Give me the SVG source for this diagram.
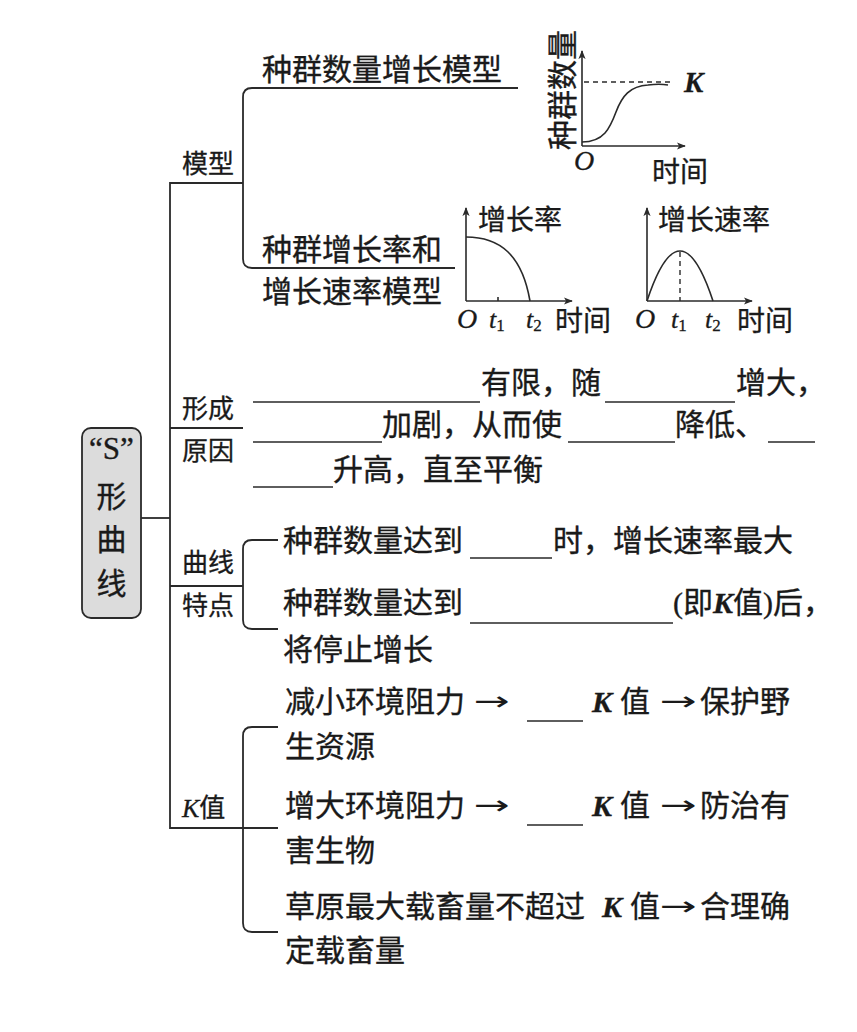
<svg xmlns="http://www.w3.org/2000/svg" width="857" height="1032" viewBox="0 0 857 1032">
<style>
.ln{fill:none;stroke:#2a2a2a;stroke-width:1.8}
.ax{fill:none;stroke:#2a2a2a;stroke-width:1.6}
.dash{fill:none;stroke:#2a2a2a;stroke-width:1.4;stroke-dasharray:5 4}
.bl{fill:none;stroke:#2a2a2a;stroke-width:1.5}
.t{font-family:"Noto Sans CJK SC","Noto Sans CJK JP",sans-serif;font-size:30px;fill:#1a1a1a;stroke:#1a1a1a;stroke-width:0.35}
.s{font-family:"Noto Sans CJK SC",sans-serif;font-size:26px;fill:#1a1a1a;stroke:#1a1a1a;stroke-width:0.3}
.g{font-family:"Noto Sans CJK SC",sans-serif;font-size:28px;fill:#1a1a1a;stroke:#1a1a1a;stroke-width:0.3}
.it{font-family:"Liberation Serif",serif;font-style:italic}
.bi{font-family:"Liberation Serif",serif;font-style:italic;font-weight:bold}
.rm{font-family:"Liberation Serif",serif}
.ar{font-family:"DejaVu Sans",sans-serif;font-size:26px;fill:#1a1a1a}
</style>
<defs>
<marker id="ah" viewBox="0 0 10 10" refX="9" refY="5" markerWidth="9" markerHeight="9" markerUnits="userSpaceOnUse" orient="auto">
<path d="M0,1 L10,5 L0,9 L2.5,5 Z" fill="#2a2a2a"/>
</marker>
</defs>
<rect width="857" height="1032" fill="#ffffff"/>

<g id="connectors">
<path class="ln" d="M243,183 H170 V828 H278"/>
<path class="ln" d="M141,518 H170"/>
<path class="ln" d="M170,428 H243"/>
<path class="ln" d="M170,586 H243"/>
<path class="ln" d="M518,88 H252 Q243,88 243,97 V259 Q243,268 252,268 H455"/>
<path class="ln" d="M278,540 H252 Q243,540 243,549 V620 Q243,629 252,629 H278"/>
<path class="ln" d="M278,727 H252 Q243,727 243,736 V923 Q243,932 252,932 H278"/>
</g>

<g id="root">
<rect x="82" y="428" width="59" height="190" rx="9" fill="#dcdcdc" stroke="#2a2a2a" stroke-width="1.8"/>
<text x="111.5" y="459" class="t" text-anchor="middle" style="font-family:'Liberation Serif',serif;font-size:31px">“S”</text>
<text x="111.5" y="507" class="t" text-anchor="middle">形</text>
<text x="111.5" y="550" class="t" text-anchor="middle">曲</text>
<text x="111.5" y="594" class="t" text-anchor="middle">线</text>
</g>

<g id="n-model">
<text x="182" y="173" class="s">模型</text>
</g>
<g id="n-model-num">
<text x="262" y="80" class="t">种群数量增长模型</text>
</g>
<g id="n-model-rate">
<text x="262" y="260" class="t">种群增长率和</text>
<text x="262" y="302" class="t">增长速率模型</text>
</g>

<g id="graph-s">
<path class="ax" d="M582,146 V51" marker-end="url(#ah)"/>
<path class="ax" d="M582,146 H685" marker-end="url(#ah)"/>
<path class="dash" d="M584,82 H673"/>
<path class="ax" d="M582,142 C604,142 610,128 616,112 C622,96 630,86 648,85 C656,84 662,84 668,85"/>
<text x="560" y="90" class="t" text-anchor="middle" dominant-baseline="central" transform="rotate(-90 560 90)">种群数量</text>
<text x="684" y="92" class="g bi" style="font-size:29px">K</text>
<text x="574" y="170" class="g it">O</text>
<text x="652" y="182" class="g">时间</text>
</g>

<g id="graph-rate">
<path class="ax" d="M466,301 V208" marker-end="url(#ah)"/>
<path class="ax" d="M466,301 H572" marker-end="url(#ah)"/>
<path class="ax" d="M498,297 V301"/>
<path class="ax" d="M466,237 C500,237 522,255 530,301"/>
<text x="478" y="230" class="g">增长率</text>
<text x="457" y="328" class="g it">O</text>
<text x="489" y="328" class="g it" style="font-size:26px">t<tspan class="rm" font-style="normal" font-size="17" dy="3">1</tspan></text>
<text x="526" y="328" class="g it" style="font-size:26px">t<tspan class="rm" font-style="normal" font-size="17" dy="3">2</tspan></text>
<text x="555" y="331" class="g">时间</text>
</g>

<g id="graph-speed">
<path class="ax" d="M647,301 V208" marker-end="url(#ah)"/>
<path class="ax" d="M647,301 H752" marker-end="url(#ah)"/>
<path class="ax" d="M647,301 Q680,201 713,301"/>
<path class="dash" d="M680,252 V301"/>
<text x="658" y="230" class="g">增长速率</text>
<text x="635" y="328" class="g it">O</text>
<text x="671" y="328" class="g it" style="font-size:26px">t<tspan class="rm" font-style="normal" font-size="17" dy="3">1</tspan></text>
<text x="705" y="328" class="g it" style="font-size:26px">t<tspan class="rm" font-style="normal" font-size="17" dy="3">2</tspan></text>
<text x="737" y="331" class="g">时间</text>
</g>

<g id="n-cause">
<text x="182" y="418" class="s">形成</text>
<text x="182" y="460" class="s">原因</text>
<path class="bl" d="M253,402 H480 M605,402 H735 M253,442 H382 M568,442 H675 M768,442 H815 M253,487 H333"/>
<text x="481" y="393" class="t">有限，随</text>
<text x="736" y="393" class="t">增大，</text>
<text x="382" y="435" class="t">加剧，从而使</text>
<text x="675" y="435" class="t">降低、</text>
<text x="333" y="480" class="t">升高，直至平衡</text>
</g>

<g id="n-feature">
<text x="182" y="572" class="s">曲线</text>
<text x="182" y="615" class="s">特点</text>
<path class="bl" d="M470,558 H552 M470,623 H673"/>
<text x="283" y="551" class="t">种群数量达到</text>
<text x="553" y="551" class="t">时，增长速率最大</text>
<text x="283" y="613" class="t">种群数量达到</text>
<text x="673" y="613" class="t"><tspan class="rm">(</tspan>即<tspan class="bi">K</tspan>值<tspan class="rm">)</tspan>后，</text>
<text x="283" y="660" class="t">将停止增长</text>
</g>

<g id="n-kvalue">
<text x="182" y="817" class="s"><tspan class="it" style="font-family:'Liberation Serif',serif">K</tspan>值</text>
<path class="bl" d="M527,721 H583 M527,825 H583"/>
<text x="285" y="712" class="t">减小环境阻力</text>
<text x="474" y="710" class="ar" textLength="36" lengthAdjust="spacingAndGlyphs">→</text>
<text x="592" y="712" class="t bi">K</text>
<text x="620" y="712" class="t">值</text>
<text x="660" y="710" class="ar" textLength="37" lengthAdjust="spacingAndGlyphs">→</text>
<text x="700" y="712" class="t">保护野</text>
<text x="285" y="757" class="t">生资源</text>
<text x="285" y="816" class="t">增大环境阻力</text>
<text x="474" y="814" class="ar" textLength="36" lengthAdjust="spacingAndGlyphs">→</text>
<text x="592" y="816" class="t bi">K</text>
<text x="620" y="816" class="t">值</text>
<text x="660" y="814" class="ar" textLength="37" lengthAdjust="spacingAndGlyphs">→</text>
<text x="700" y="816" class="t">防治有</text>
<text x="285" y="861" class="t">害生物</text>
<text x="285" y="917" class="t">草原最大载畜量不超过</text>
<text x="602" y="917" class="t bi">K</text>
<text x="630" y="917" class="t">值</text>
<text x="660" y="915" class="ar" textLength="37" lengthAdjust="spacingAndGlyphs">→</text>
<text x="700" y="917" class="t">合理确</text>
<text x="285" y="961" class="t">定载畜量</text>
</g>
</svg>
